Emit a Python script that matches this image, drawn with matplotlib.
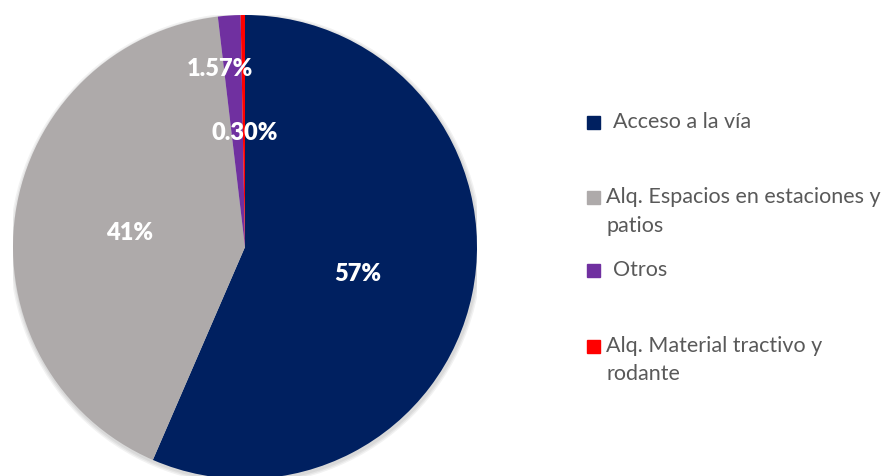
import matplotlib
matplotlib.use("Agg")
import numpy as np
import matplotlib.pyplot as plt
from matplotlib.patches import Rectangle, Circle

# --- datos ---
categorias = ["Acceso a la vía", "Alq. Espacios en estaciones y\npatios", "Otros",
              "Alq. Material tractivo y\nrodante"]
valores = [56.5, 41.63, 1.57, 0.30]
etiquetas = ["57%", "41%", "1.57%", "0.30%"]
colores = ["#002060", "#AEAAAA", "#7030A0", "#FF0000"]

W, H = 889, 476
fig = plt.figure(figsize=(W / 100, H / 100), dpi=100)

# pie: centro (245, 247) px, radio 232 px
cx, cy, R = 245, 247, 232
ax = fig.add_axes([(cx - R) / W, (H - cy - R) / H, 2 * R / W, 2 * R / H])

# sombra suave
for i in range(3):
    ax.add_patch(Circle((0.004, -0.008), 1.0 + 0.006 * (i + 1), color="black",
                        alpha=0.05, lw=0, zorder=0))

wedges, _ = ax.pie(valores, colors=colores, startangle=90, counterclock=False,
                   radius=1.0, wedgeprops=dict(linewidth=0), frame=True)
ax.set_xlim(-1, 1)
ax.set_ylim(-1, 1)
ax.axis("off")

# posiciones de etiquetas (radio, desplazamiento angular)
radios = [0.50, 0.50, 0.775, 0.49]
desfase = [-1.8, 1.5, 4, -0.5]
for w, txt, r, d in zip(wedges, etiquetas, radios, desfase):
    ang = np.deg2rad((w.theta1 + w.theta2) / 2 + d)
    ax.text(r * np.cos(ang), r * np.sin(ang), txt, color="white", fontsize=17,
            fontweight="heavy", family="Lato", ha="center", va="center", zorder=5)

# --- leyenda manual ---
leg_y = [122, 197, 270, 346]
leg_tx = [613, 606, 613, 606]
for y, col, cat, tx in zip(leg_y, colores, categorias, leg_tx):
    fig.patches.append(Rectangle((587 / W, (H - y - 6.5) / H), 13 / W, 13 / H,
                                 transform=fig.transFigure, color=col, figure=fig))
    lineas = cat.split("\n")
    fig.text(tx / W, (H - y) / H, lineas[0], color="#595959", fontsize=15.5,
             family="Lato", ha="left", va="center")
    if len(lineas) > 1:
        fig.text(607 / W, (H - y - 28.5) / H, lineas[1], color="#595959", fontsize=15.5,
                 family="Lato", ha="left", va="center")

fig.savefig("out.png", dpi=100)
